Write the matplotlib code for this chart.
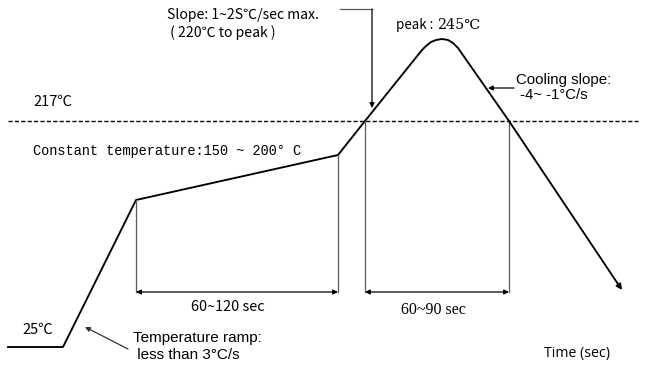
import matplotlib.pyplot as plt

# schematic reflow profile (time units -> horizontal, level units -> vertical)
profile_t = [8, 63, 136, 338, 365, 422, 426, 431, 436, 442, 448, 453, 458, 509, 622]
profile_h = [22, 22, 169, 214, 248, 319, 323, 327, 329, 330, 329, 326, 321, 248, 79]

liquidus_h = 248          # 217 C line
dash_span = [8, 638]
dim_h = 77                # height of the dimension arrows
soak_span = [136, 338]    # 60~120 sec
reflow_span = [365, 509]  # 60~90 sec

gray = '#5a5a5a'
sans_cn = ['Noto Sans CJK SC', 'DejaVu Sans']

fig = plt.figure(figsize=(6.5, 3.69), dpi=100)
ax = fig.add_axes([0, 0, 1, 1])
ax.set_xlim(0, 650)
ax.set_ylim(0, 369)
ax.axis('off')

# main curve
ax.plot(profile_t[:-1], profile_h[:-1], color='black', lw=1.35, solid_joinstyle='round')
ax.annotate('', xy=(profile_t[-1], profile_h[-1]), xytext=(profile_t[-2], profile_h[-2]),
            arrowprops=dict(arrowstyle='-|>', color='black', lw=1.35,
                            mutation_scale=8, shrinkA=0, shrinkB=0))

# 217 C dashed line
ax.plot(dash_span, [liquidus_h, liquidus_h], color='black', lw=1.0,
        linestyle=(0, (3, 1.6)))

# vertical guides
for t, h in [(soak_span[0], profile_h[2]), (soak_span[1], profile_h[3]),
             (reflow_span[0], liquidus_h), (reflow_span[1], liquidus_h)]:
    ax.plot([t, t], [h, dim_h], color=gray, lw=0.9)

# dimension arrows
for span in (soak_span, reflow_span):
    ax.annotate('', xy=(span[0], dim_h), xytext=(span[1], dim_h),
                arrowprops=dict(arrowstyle='<|-|>', color='black', lw=0.9,
                                mutation_scale=7, shrinkA=0, shrinkB=0))

# leader for slope text
ax.plot([340, 372], [360, 360], color=gray, lw=0.9)
ax.annotate('', xy=(372, 261), xytext=(372, 360),
            arrowprops=dict(arrowstyle='-|>', color='black', lw=0.9,
                            mutation_scale=7, shrinkA=0, shrinkB=0))

# cooling slope arrow
ax.annotate('', xy=(488, 281), xytext=(514, 281),
            arrowprops=dict(arrowstyle='-|>', color='black', lw=0.9,
                            mutation_scale=7, shrinkA=0, shrinkB=0))

# ramp arrow
ax.annotate('', xy=(85, 42), xytext=(128, 20),
            arrowprops=dict(arrowstyle='-|>', color='#333333', lw=0.9,
                            mutation_scale=7, shrinkA=0, shrinkB=0))

# labels
ax.text(33, 267, '217℃', family=sans_cn, fontsize=10.5, va='center')
ax.text(33, 218, 'Constant temperature:150 ~ 200° C', family='Liberation Mono',
        fontsize=9.8, va='center')
ax.text(167, 354, 'Slope: 1~2S℃/sec max.', family=sans_cn, fontsize=10.1, va='center')
ax.text(167, 336, ' ( 220℃ to peak )', family=sans_cn, fontsize=10.1, va='center')
ax.text(396, 344, 'peak :', family=sans_cn, fontsize=9.6, va='center')
ax.text(437, 344, '245℃', family=['DejaVu Serif'], fontsize=10.3, va='center')
ax.text(516, 289, 'Cooling slope:', family='Liberation Sans', fontsize=10.8, va='center')
ax.text(516, 274, ' -4~ -1°C/s', family='Liberation Sans', fontsize=10.8, va='center')
ax.text(38, 39, '25℃', family=sans_cn, fontsize=10.5, va='center', ha='center')
ax.text(133, 31, 'Temperature ramp:', family='Liberation Sans', fontsize=11, va='center')
ax.text(133, 14, ' less than 3°C/s', family='Liberation Sans', fontsize=11, va='center')
ax.text(228, 62, '60~120 sec', family=sans_cn, fontsize=10.4, va='center', ha='center')
ax.text(433, 59, '60~90 sec', family='Liberation Serif', fontsize=11.5, va='center', ha='center')
ax.text(577, 16, 'Time (sec)', family='Open Sans', fontsize=10.2, va='center', ha='center')

fig.savefig('out.png', dpi=100)
